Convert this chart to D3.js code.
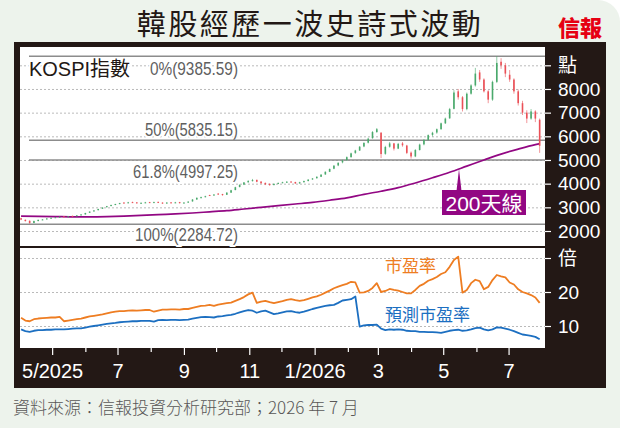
<!DOCTYPE html>
<html>
<head>
<meta charset="utf-8">
<script src="https://d3js.org/d3.v7.min.js"></script>
<style>
  html, body { margin: 0; padding: 0; background: #fff; }
  svg { display: block; }
</style>
</head>
<body>
<div id="chart"></div>
<script>

var title = "韓股經歷一波史詩式波動";
var source = "資料來源：信報投資分析研究部；2026 年 7 月";

// one bar every 4 calendar days from 2 Apr 2025
var barStart = new Date(2025, 3, 2);
var barStepDays = 4;

// KOSPI [open, high, low, close]
var kospi = [
  [2540,2560,2460,2480],[2470,2490,2400,2420],[2430,2450,2300,2340],[2340,2440,2330,2420],
  [2420,2480,2410,2470],[2480,2500,2460,2490],[2500,2540,2490,2530],[2540,2570,2520,2560],
  [2570,2590,2550,2580],[2590,2610,2570,2600],[2620,2630,2590,2610],[2600,2630,2590,2620],
  [2640,2650,2610,2630],[2640,2670,2630,2660],[2670,2710,2660,2700],[2700,2770,2690,2760],
  [2770,2830,2760,2820],[2840,2880,2810,2870],[2880,2940,2870,2930],[2940,3000,2930,2990],
  [3010,3060,2990,3050],[3060,3110,3040,3100],[3110,3150,3090,3140],[3150,3190,3130,3180],
  [3200,3220,3170,3190],[3190,3230,3180,3210],[3220,3240,3190,3200],[3210,3220,3160,3180],
  [3170,3210,3160,3190],[3190,3230,3180,3210],[3220,3230,3180,3200],[3200,3240,3190,3220],
  [3230,3240,3180,3190],[3200,3210,3150,3170],[3170,3220,3160,3200],[3210,3220,3170,3190],
  [3190,3230,3180,3210],[3220,3230,3160,3180],[3180,3220,3170,3200],[3200,3260,3190,3240],
  [3250,3350,3240,3330],[3330,3420,3320,3400],[3410,3450,3380,3430],[3440,3490,3420,3470],
  [3520,3530,3480,3500],[3500,3560,3490,3540],[3580,3600,3530,3560],[3560,3570,3490,3520],
  [3530,3640,3520,3620],[3620,3740,3610,3720],[3730,3870,3720,3850],[3860,3970,3840,3950],
  [3960,4070,3940,4050],[4060,4150,4040,4110],[4120,4200,4090,4150],[4160,4170,4060,4080],
  [4090,4100,3990,4020],[4030,4050,3940,3970],[3990,4010,3910,3940],[3940,4010,3930,3990],
  [3990,4050,3980,4030],[4040,4080,4020,4060],[4060,4110,4040,4080],[4090,4100,4040,4060],
  [4070,4080,3990,4010],[4010,4080,4000,4060],[4060,4130,4050,4110],[4110,4190,4100,4170],
  [4180,4240,4160,4220],[4230,4310,4210,4290],[4290,4400,4280,4380],[4390,4520,4370,4500],
  [4500,4640,4490,4620],[4630,4780,4610,4760],[4770,4900,4740,4880],[4900,5010,4860,4980],
  [4990,5150,4970,5120],[5120,5310,5100,5280],[5300,5430,5260,5400],[5400,5590,5380,5560],
  [5570,5750,5540,5720],[5730,5940,5700,5900],[5920,6220,5900,6180],[6180,6350,6150,6300],
  [6150,6180,5080,5250],[5260,5600,5220,5550],[5560,5760,5520,5700],[5700,5720,5400,5480],
  [5480,5720,5460,5680],[5700,5760,5560,5620],[5610,5640,5250,5300],[5310,5360,5060,5150],
  [5150,5460,5120,5420],[5420,5690,5400,5650],[5660,5880,5620,5850],[5850,6080,5820,6050],
  [6060,6190,5990,6150],[6160,6330,6110,6300],[6300,6580,6280,6550],[6550,6790,6520,6750],
  [6760,7200,6740,7150],[7160,7950,7140,7850],[7900,8000,7550,7650],[7650,7700,7050,7150],
  [7150,7850,7100,7800],[7800,8200,7760,8150],[8150,8890,8100,8650],[8700,8800,8300,8400],
  [8400,8450,7850,7900],[7900,7950,7400,7550],[7550,8350,7500,8300],[8300,9385,8250,9100],
  [9150,9300,8850,9000],[9000,9100,8500,8650],[8600,8800,8300,8400],[8400,8450,7800,7900],
  [7900,7980,7300,7400],[7400,7500,6900,7000],[7000,7100,6560,6750],[6750,7150,6700,7050],
  [7050,7100,6600,6750],[6700,6750,5300,5600]
];

// 200-day average [bar index, value]
var ma200 = [
  [0,2630],[4,2620],[8,2610],[12,2600],[16,2600],[20,2610],[24,2630],[28,2660],
  [32,2690],[36,2720],[40,2760],[44,2810],[48,2860],[52,2930],[56,3000],[60,3070],
  [64,3140],[68,3210],[72,3300],[76,3400],[80,3550],[84,3680],[88,3830],[92,4030],
  [96,4250],[100,4480],[104,4740],[108,5000],[112,5250],[116,5460],[120,5650],[121,5690]
];

// 市盈率 (trailing PE), one value per bar
var peTrailing = [
  12.4,11.6,11.4,12.0,12.2,12.3,12.4,12.5,12.5,12.7,
  11.4,11.6,11.8,12.0,12.2,12.5,12.8,13.0,13.2,13.4,
  13.7,14.0,14.2,14.4,14.4,14.5,14.6,14.5,14.6,14.7,
  14.7,14.2,14.5,14.8,14.8,14.9,14.9,14.8,15.0,15.0,
  15.3,15.6,15.9,16.0,16.2,15.9,16.3,16.5,16.7,16.9,
  17.4,17.9,18.5,19.3,19.8,16.8,17.2,17.4,17.0,16.7,
  17.0,17.3,17.7,17.9,17.6,17.4,17.6,18.0,18.4,18.7,
  19.2,19.8,20.4,21.1,21.6,22.0,22.4,23.0,22.8,19.8,
  19.9,20.3,21.2,22.6,20.0,20.3,20.9,20.6,20.4,20.0,
  19.6,19.6,20.6,21.8,22.4,23.3,23.8,24.4,25.3,25.8,
  27.4,29.4,30.4,19.8,20.6,22.6,23.6,23.2,20.8,21.5,
  23.5,25.0,24.6,24.3,22.8,22.2,20.8,20.0,19.6,19.1,
  18.4,16.8
];

// 預測市盈率 (forward PE)
var peForward = [
  9.0,8.5,8.3,8.6,8.8,8.8,8.9,8.9,9.0,9.0,
  9.0,9.1,9.2,9.3,9.3,9.5,9.8,10.0,10.2,10.4,
  10.6,10.8,10.9,11.1,11.2,11.3,11.4,11.4,11.5,11.5,
  11.5,11.3,11.7,11.8,11.7,11.8,11.8,11.7,11.8,11.9,
  12.2,12.4,12.6,12.7,12.6,12.5,12.8,12.9,13.1,13.3,
  13.6,14.0,14.4,14.7,14.5,13.9,14.3,14.5,14.0,13.5,
  13.7,14.0,14.3,14.4,14.1,13.9,14.2,14.6,15.0,15.3,
  15.6,15.9,16.1,16.2,16.8,17.5,17.7,17.9,18.7,9.8,
  10.2,10.3,10.3,10.4,9.2,8.8,9.0,8.9,9.0,8.9,
  8.6,8.5,8.5,8.3,8.3,8.2,8.2,8.1,8.0,8.3,
  8.6,8.8,8.9,8.6,8.7,9.0,9.4,9.5,9.0,8.7,
  9.0,9.6,9.5,9.2,8.9,8.5,8.0,7.5,7.3,7.1,
  6.8,6.1
];

// Fibonacci retracement levels
var fibPct = ["0%", "50%", "61.8%", "100%"];
var fibVal = [9385.59, 5835.15, 4997.25, 2284.72];

var priceTicks = [2000, 3000, 4000, 5000, 6000, 7000, 8000, 9000];
var priceLabels = ["2000", "3000", "4000", "5000", "6000", "7000", "8000", "點"];
var peTicks = [10, 20, 30];
var peLabels = ["10", "20", "倍"];
var monthLabels = ["5/2025", "", "7", "", "9", "", "11", "", "1/2026", "", "3", "", "5", "", "7"];

// ---------------------------------------------------------------

var W = 620, H = 428;
var latin = "'Liberation Sans', Arial, 'Noto Sans CJK TC', sans-serif";
var cjk = "'Noto Sans CJK TC', 'Noto Sans CJK SC', sans-serif";
var plot = { left: 20, right: 545, top: 47, mid: 246, low: 248, bottom: 348 };

function barDate(i) {
  return d3.timeDay.offset(barStart, i * barStepDays);
}

var svg = d3.select("#chart").append("svg")
  .attr("width", W)
  .attr("height", H);

// background, rounded top-right corner
svg.append("rect").attr("width", W).attr("height", H).attr("fill", "#fff");
svg.append("rect")
  .attr("x", -30).attr("y", 0)
  .attr("width", W + 30).attr("height", H + 30)
  .attr("rx", 22)
  .attr("fill", "#edf3ec");

// dark frame + two white panels
svg.append("rect")
  .attr("x", 14).attr("y", 42).attr("width", 592).attr("height", 346)
  .attr("fill", "#231815");
svg.append("rect")
  .attr("x", plot.left).attr("y", plot.top)
  .attr("width", plot.right - plot.left).attr("height", plot.mid - plot.top)
  .attr("fill", "#fff");
svg.append("rect")
  .attr("x", plot.left).attr("y", plot.low)
  .attr("width", plot.right - plot.left).attr("height", plot.bottom - plot.low)
  .attr("fill", "#fff");

// title + logo
svg.append("text")
  .attr("x", 310).attr("y", 35)
  .attr("text-anchor", "middle")
  .attr("font-family", cjk)
  .attr("font-size", 29)
  .attr("font-weight", 400)
  .attr("letter-spacing", 2.5)
  .attr("fill", "#231815")
  .text(title);
svg.append("text")
  .attr("x", 580).attr("y", 36)
  .attr("text-anchor", "middle")
  .attr("font-family", cjk)
  .attr("font-size", 22)
  .attr("font-weight", 900)
  .attr("fill", "#e60012")
  .text("信報");

// scales
var x = d3.scaleTime()
  .domain([new Date(2025, 3, 1), new Date(2026, 7, 4)])
  .range([plot.left, plot.right]);
var yP = d3.scaleLinear()
  .domain([2000, 9000])
  .range([231, 65.3]);
var yE = d3.scaleLinear()
  .domain([10, 30])
  .range([326, 258]);

// gridlines
function grid(g) {
  g.select(".domain").remove();
  g.selectAll("line")
    .attr("stroke", "#a8a8a8")
    .attr("stroke-width", 0.8)
    .attr("stroke-dasharray", "2,2");
}
svg.append("g")
  .attr("transform", "translate(" + plot.left + ",0)")
  .call(d3.axisLeft(yP).tickValues(priceTicks).tickSize(-(plot.right - plot.left)).tickFormat(""))
  .call(grid);
svg.append("g")
  .attr("transform", "translate(" + plot.left + ",0)")
  .call(d3.axisLeft(yE).tickValues(peTicks).tickSize(-(plot.right - plot.left)).tickFormat(""))
  .call(grid);

// right axes
function rightAxis(g) {
  g.select(".domain").remove();
  g.selectAll("line").attr("stroke", "#fff").attr("stroke-width", 1.2);
  g.selectAll("text")
    .attr("fill", "#fff")
    .attr("font-family", latin)
    .attr("font-size", 19)
    .attr("text-anchor", "start");
}
svg.append("g")
  .attr("transform", "translate(" + plot.right + ",0)")
  .call(d3.axisRight(yP).tickValues(priceTicks).tickSize(6).tickPadding(7)
    .tickFormat(function(d, i) { return priceLabels[i]; }))
  .call(rightAxis);
svg.append("g")
  .attr("transform", "translate(" + plot.right + ",0)")
  .call(d3.axisRight(yE).tickValues(peTicks).tickSize(6).tickPadding(7)
    .tickFormat(function(d, i) { return peLabels[i]; }))
  .call(rightAxis);

// month axis
var months = d3.timeMonth.range(new Date(2025, 4, 1), new Date(2026, 7, 1));
var xAxis = svg.append("g")
  .attr("transform", "translate(0," + plot.bottom + ")")
  .call(d3.axisBottom(x).tickValues(months).tickSize(7)
    .tickFormat(function(d, i) { return monthLabels[i]; }));
xAxis.select(".domain").remove();
xAxis.selectAll("line")
  .attr("stroke", "#fff")
  .attr("stroke-width", 1.2)
  .attr("y2", function(d, i) { return monthLabels[i] ? 7 : 4; });
xAxis.selectAll("text")
  .attr("fill", "#fff")
  .attr("font-family", latin)
  .attr("font-size", 20)
  .attr("y", 30)
  .attr("dy", 0);

// top-left label
svg.append("text")
  .attr("x", 29).attr("y", 76)
  .attr("font-family", latin)
  .attr("font-size", 20)
  .attr("textLength", 101)
  .attr("lengthAdjust", "spacingAndGlyphs")
  .attr("fill", "#231815")
  .attr("stroke", "#fff").attr("stroke-width", 4)
  .attr("paint-order", "stroke")
  .text("KOSPI指數");

// fib labels and lines
var fibDy = [19, -4, 18, 17];
var fibLen = [88, 93, 105, 103];
var fibStart = [29, 29, 29, 20];
svg.selectAll(".fib-label")
  .data(fibVal)
  .enter()
  .append("text")
  .classed("fib-label", true)
  .attr("x", 238)
  .attr("y", function(d, i) { return yP(d) + fibDy[i]; })
  .attr("text-anchor", "end")
  .attr("font-family", latin)
  .attr("font-size", 18)
  .attr("textLength", function(d, i) { return fibLen[i]; })
  .attr("lengthAdjust", "spacingAndGlyphs")
  .attr("fill", "#5f5f5f")
  .attr("stroke", "#fff").attr("stroke-width", 4)
  .attr("paint-order", "stroke")
  .text(function(d, i) { return fibPct[i] + "(" + d.toFixed(2) + ")"; });
svg.selectAll(".fib-line")
  .data(fibVal)
  .enter()
  .append("line")
  .classed("fib-line", true)
  .attr("x1", function(d, i) { return fibStart[i]; })
  .attr("x2", plot.right)
  .attr("y1", function(d) { return yP(d); })
  .attr("y2", function(d) { return yP(d); })
  .attr("stroke", "#8c8c8c")
  .attr("stroke-width", 1.5);

// 200-day line
svg.append("path")
  .datum(ma200)
  .attr("fill", "none")
  .attr("stroke", "#920783")
  .attr("stroke-width", 1.7)
  .attr("d", d3.line()
    .x(function(d) { return x(barDate(d[0])); })
    .y(function(d) { return yP(d[1]); })
    .curve(d3.curveMonotoneX));

// candles
var up = "#4aa96c", down = "#ea5057";
var candle = svg.append("g").selectAll("g")
  .data(kospi)
  .enter()
  .append("g")
  .attr("transform", function(d, i) { return "translate(" + x(barDate(i)) + ",0)"; });
candle.append("line")
  .attr("y1", function(d) { return yP(d[1]); })
  .attr("y2", function(d) { return yP(d[2]); })
  .attr("stroke", function(d) { return d[3] >= d[0] ? up : down; })
  .attr("stroke-width", 0.8)
  .attr("opacity", 0.75);
candle.append("rect")
  .attr("x", -0.8)
  .attr("width", 1.6)
  .attr("y", function(d) { return yP(Math.max(d[0], d[3])); })
  .attr("height", function(d) { return Math.max(1, Math.abs(yP(d[0]) - yP(d[3]))); })
  .attr("fill", function(d) { return d[3] >= d[0] ? up : down; });

// PE lines
function peLine(values, color) {
  svg.append("path")
    .datum(values)
    .attr("fill", "none")
    .attr("stroke", color)
    .attr("stroke-width", 1.8)
    .attr("stroke-linejoin", "round")
    .attr("d", d3.line()
      .x(function(d, i) { return x(barDate(i)); })
      .y(function(d) { return yE(d); }));
}
peLine(peTrailing, "#ee7d22");
peLine(peForward, "#1c6fc1");

svg.append("text")
  .attr("x", 385).attr("y", 272)
  .attr("font-family", cjk).attr("font-size", 17)
  .attr("fill", "#ee7d22")
  .text("市盈率");
svg.append("text")
  .attr("x", 385).attr("y", 321)
  .attr("font-family", cjk).attr("font-size", 17)
  .attr("fill", "#1c6fc1")
  .attr("stroke", "#fff").attr("stroke-width", 3)
  .attr("paint-order", "stroke")
  .text("預測市盈率");

// 200天線 tag, pointing at the line
var tagX = 459;
var tagDate = x.invert(tagX);
var k = d3.bisector(function(d) { return barDate(d[0]); }).left(ma200, tagDate);
var a = ma200[k - 1], b = ma200[k];
var t = (tagDate - barDate(a[0])) / (barDate(b[0]) - barDate(a[0]));
var tipY = yP(a[1] + (b[1] - a[1]) * t);

svg.append("path")
  .attr("d", "M" + (tagX - 2.5) + ",191L" + tagX + "," + tipY + "L" + (tagX + 2.5) + ",191Z")
  .attr("fill", "#920783");
svg.append("rect")
  .attr("x", 442).attr("y", 190)
  .attr("width", 84).attr("height", 25)
  .attr("fill", "#920783");
svg.append("text")
  .attr("x", 484).attr("y", 211)
  .attr("text-anchor", "middle")
  .attr("font-family", latin)
  .attr("font-size", 21)
  .attr("fill", "#fff")
  .text("200天線");

// source line
svg.append("text")
  .attr("x", 13).attr("y", 414)
  .attr("font-family", cjk)
  .attr("font-size", 17)
  .attr("font-weight", 300)
  .attr("fill", "#595757")
  .text(source);

</script>
</body>
</html>
